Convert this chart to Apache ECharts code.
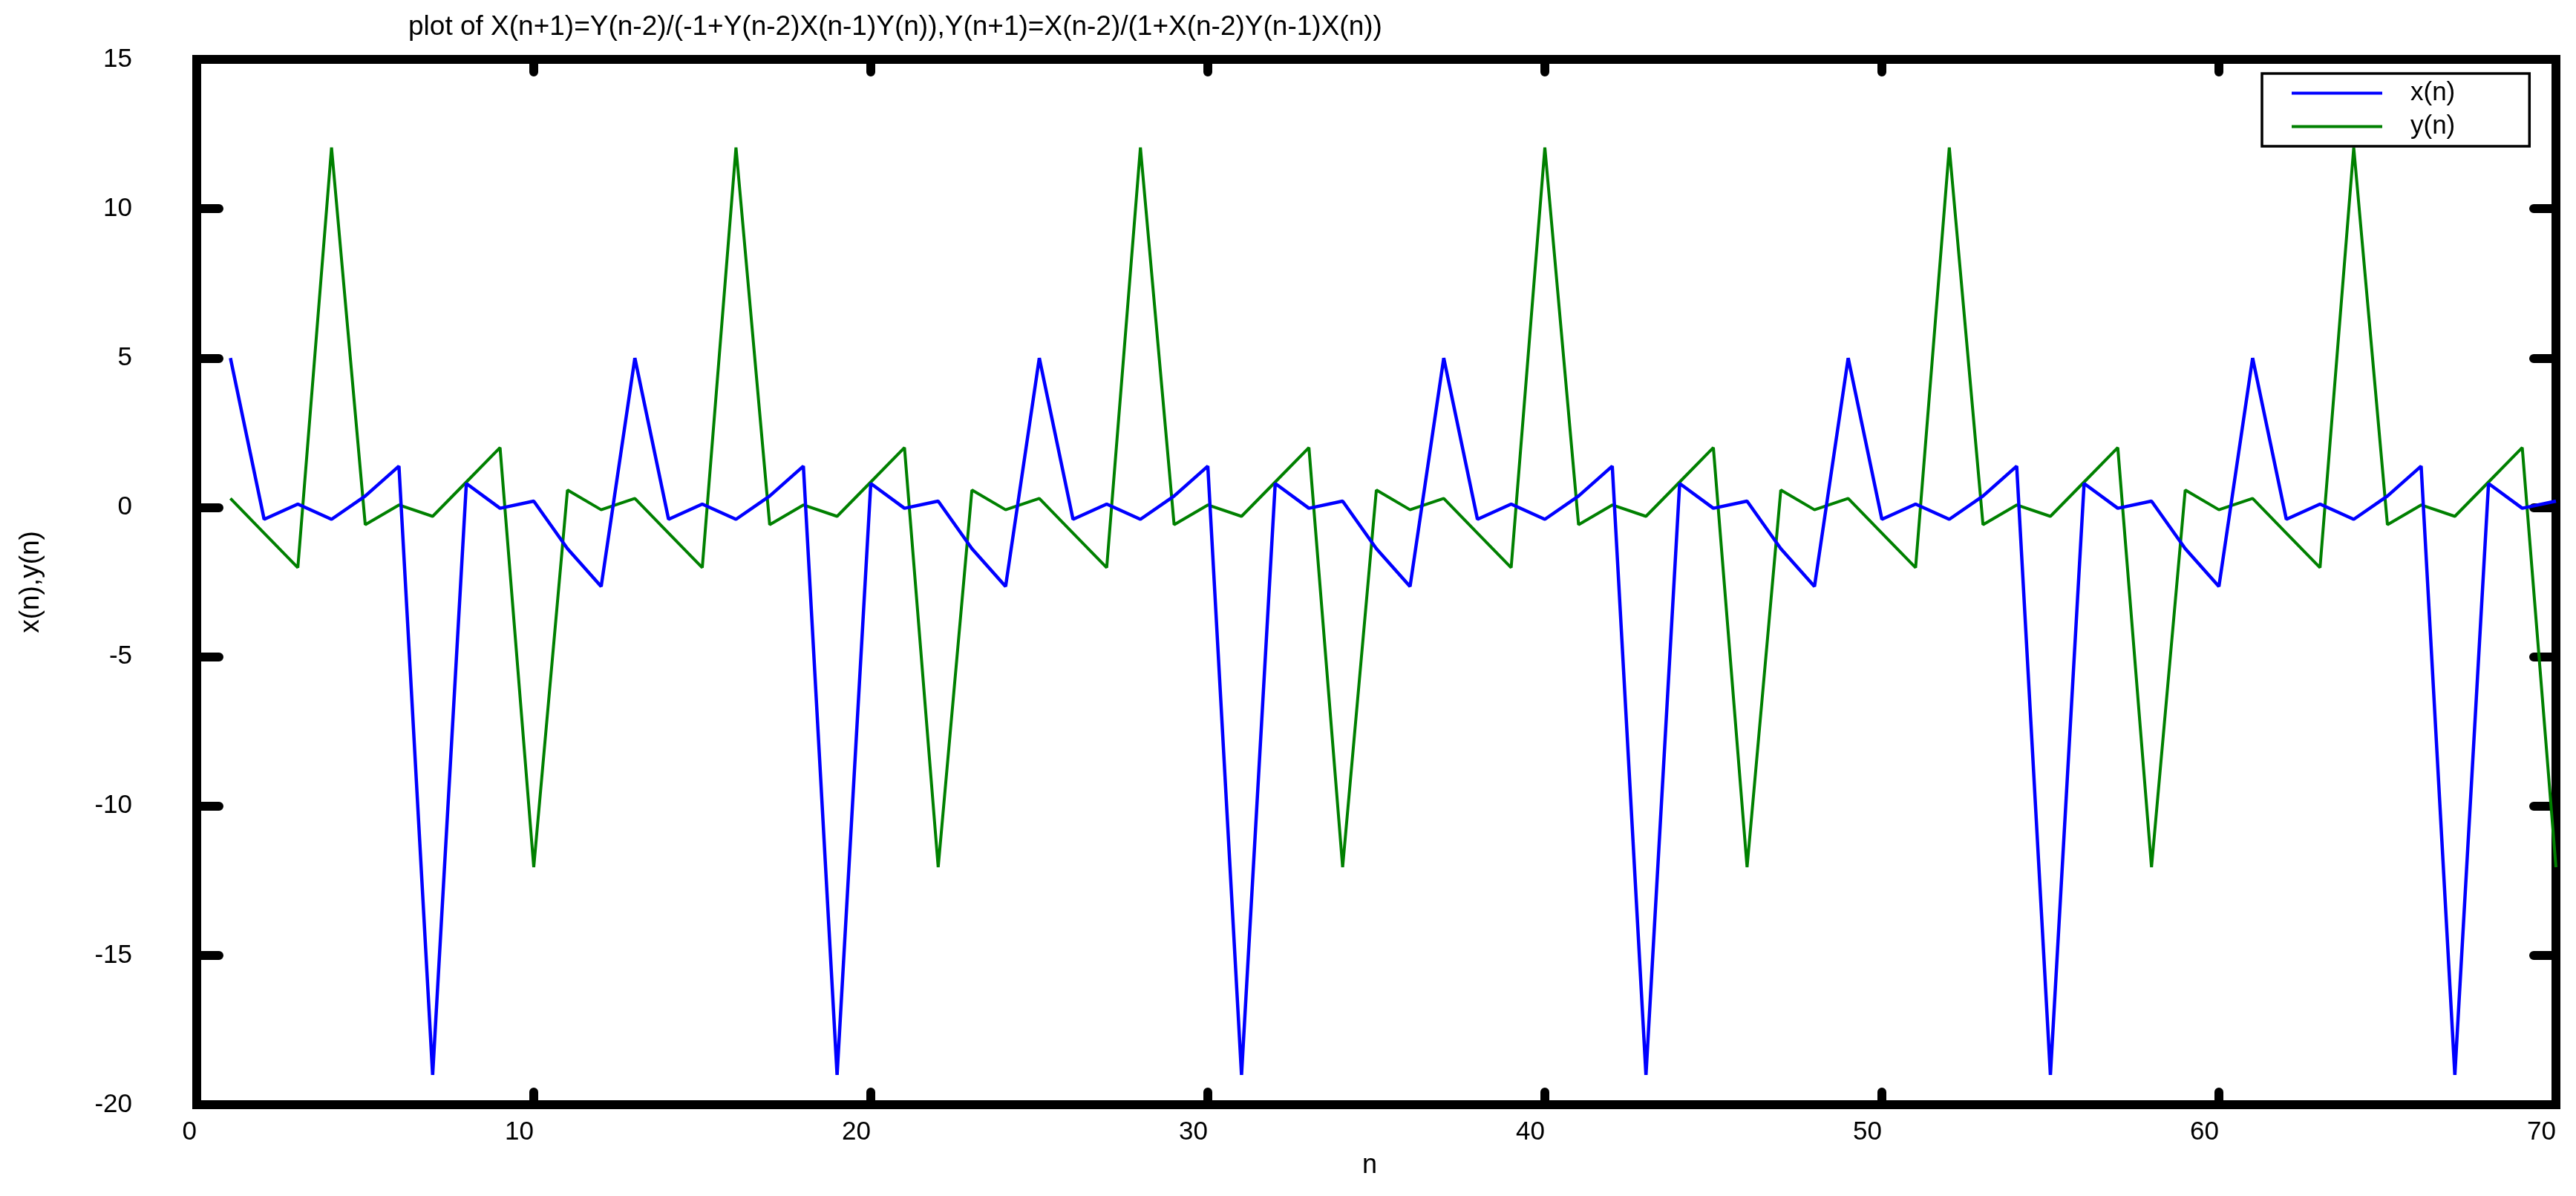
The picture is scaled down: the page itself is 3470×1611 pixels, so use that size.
<!DOCTYPE html>
<html>
<head>
<meta charset="utf-8">
<script src="https://cdn.jsdelivr.net/npm/echarts@6/dist/echarts.min.js"></script>
<style>
html,body{margin:0;padding:0;background:#fff;}
#chart{width:3470px;height:1611px;}
</style>
</head>
<body>
<div id="chart"></div>
<script>
var titleText = 'plot of X(n+1)=Y(n-2)/(-1+Y(n-2)X(n-1)Y(n)),Y(n+1)=X(n-2)/(1+X(n-2)Y(n-1)X(n))';
var seriesNames = ['x(n)', 'y(n)'];
var xTicks = [0, 10, 20, 30, 40, 50, 60, 70];
var yTicks = [-20, -15, -10, -5, 0, 5, 10, 15];

var nVals = [1,2,3,4,5,6,7,8,9,10,11,12,13,14,15,16,17,18,19,20,
  21,22,23,24,25,26,27,28,29,30,31,32,33,34,35,36,37,38,39,40,
  41,42,43,44,45,46,47,48,49,50,51,52,53,54,55,56,57,58,59,60,
  61,62,63,64,65,66,67,68,69,70];

var xVals = [
  5, -0.4, 0.11, -0.4, 0.38, 1.38, -19, 0.8, -0.03, 0.21, -1.38, -2.65,
  5, -0.4, 0.11, -0.4, 0.38, 1.38, -19, 0.8, -0.03, 0.21, -1.38, -2.65,
  5, -0.4, 0.11, -0.4, 0.38, 1.38, -19, 0.8, -0.03, 0.21, -1.38, -2.65,
  5, -0.4, 0.11, -0.4, 0.38, 1.38, -19, 0.8, -0.03, 0.21, -1.38, -2.65,
  5, -0.4, 0.11, -0.4, 0.38, 1.38, -19, 0.8, -0.03, 0.21, -1.38, -2.65,
  5, -0.4, 0.11, -0.4, 0.38, 1.38, -19, 0.8, -0.03, 0.21
];

var yVals = [
  0.3, -0.86, -2.02, 12.05, -0.58, 0.08, -0.3, 0.85, 2.0, -12.05, 0.58, -0.08,
  0.3, -0.86, -2.02, 12.05, -0.58, 0.08, -0.3, 0.85, 2.0, -12.05, 0.58, -0.08,
  0.3, -0.86, -2.02, 12.05, -0.58, 0.08, -0.3, 0.85, 2.0, -12.05, 0.58, -0.08,
  0.3, -0.86, -2.02, 12.05, -0.58, 0.08, -0.3, 0.85, 2.0, -12.05, 0.58, -0.08,
  0.3, -0.86, -2.02, 12.05, -0.58, 0.08, -0.3, 0.85, 2.0, -12.05, 0.58, -0.08,
  0.3, -0.86, -2.02, 12.05, -0.58, 0.08, -0.3, 0.85, 2.0, -12.05
];

var FONT = '"Liberation Sans", Arial, sans-serif';

function pairs(vals) {
  return vals.map(function (v, i) { return [nVals[i], v]; });
}

var frameLine = { show: true, onZero: false, lineStyle: { color: '#000', width: 12, cap: 'square' } };

var chart = echarts.init(document.getElementById('chart'), null, { renderer: 'canvas' });
chart.setOption({
  animation: false,
  backgroundColor: '#fff',
  title: {
    text: titleText,
    left: 545,
    top: 13,
    textStyle: { fontFamily: FONT, fontSize: 37, fontWeight: 'normal', color: '#000' }
  },
  legend: {
    orient: 'vertical',
    left: 3047,
    top: 99,
    padding: [9, 100, 9, 40],
    borderColor: '#000',
    borderWidth: 3.5,
    backgroundColor: '#fff',
    itemWidth: 122,
    itemHeight: 4,
    itemGap: 10,
    selectedMode: false,
    data: [
      { name: seriesNames[0], icon: 'rect' },
      { name: seriesNames[1], icon: 'rect' }
    ],
    textStyle: { fontFamily: FONT, fontSize: 35, color: '#000', padding: [0, 0, 0, 33] }
  },
  grid: { left: 265, right: 27, top: 80, bottom: 123, containLabel: false },
  xAxis: [
    {
      type: 'value', min: xTicks[0], max: xTicks[xTicks.length - 1], interval: 10,
      name: 'n', nameLocation: 'middle', nameGap: 64,
      nameTextStyle: { fontFamily: FONT, fontSize: 36, color: '#000', padding: [0, 18, 0, 0] },
      axisLine: frameLine,
      axisTick: { show: true, inside: true, length: 17, lineStyle: { color: '#000', width: 12, cap: 'round' } },
      axisLabel: { show: true, margin: 20, align: 'right', fontFamily: FONT, fontSize: 35, color: '#000' },
      splitLine: { show: false }
    },
    {
      type: 'value', position: 'top', min: xTicks[0], max: xTicks[xTicks.length - 1], interval: 10,
      axisLine: frameLine,
      axisTick: { show: true, inside: true, length: 17, lineStyle: { color: '#000', width: 12, cap: 'round' } },
      axisLabel: { show: false },
      splitLine: { show: false }
    }
  ],
  yAxis: [
    {
      type: 'value', min: yTicks[0], max: yTicks[yTicks.length - 1], interval: 5,
      name: 'x(n),y(n)', nameLocation: 'middle', nameGap: 205,
      nameTextStyle: { fontFamily: FONT, fontSize: 37, color: '#000' },
      axisLine: frameLine,
      axisTick: { show: true, inside: true, length: 30, lineStyle: { color: '#000', width: 12, cap: 'round' } },
      axisLabel: { show: true, margin: 87, fontFamily: FONT, fontSize: 35, color: '#000' },
      splitLine: { show: false }
    },
    {
      type: 'value', position: 'right', min: yTicks[0], max: yTicks[yTicks.length - 1], interval: 5,
      axisLine: frameLine,
      axisTick: { show: true, inside: true, length: 30, lineStyle: { color: '#000', width: 12, cap: 'round' } },
      axisLabel: { show: false },
      splitLine: { show: false }
    }
  ],
  series: [
    {
      name: seriesNames[0], type: 'line', xAxisIndex: 0, yAxisIndex: 0,
      data: pairs(xVals), showSymbol: false, symbol: 'none',
      lineStyle: { color: '#0000ff', width: 4.5 }, itemStyle: { color: '#0000ff' },
      z: 3
    },
    {
      name: seriesNames[1], type: 'line', xAxisIndex: 0, yAxisIndex: 0,
      data: pairs(yVals), showSymbol: false, symbol: 'none',
      lineStyle: { color: '#008000', width: 4 }, itemStyle: { color: '#008000' },
      z: 2
    }
  ]
});
</script>
</body>
</html>
